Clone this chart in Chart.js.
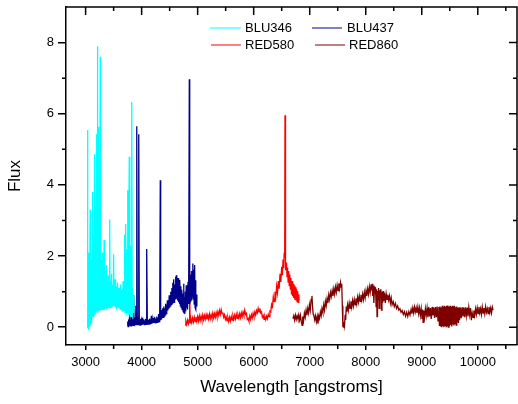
<!DOCTYPE html>
<html>
<head>
<meta charset="utf-8">
<script src="https://cdn.jsdelivr.net/npm/chart.js@4/dist/chart.umd.min.js"></script>
<style>
  body { margin: 0; background: #fff; }
  canvas { display: block; }
</style>
</head>
<body>
<canvas id="spectrum" width="518" height="404"></canvas>
<script>
// [wavelength (angstroms), flux] per arm of the spectrograph
const blu346 = [
  [3030,0.02],[3034,5.54],[3037,0.0],[3041,1.75],[3045,0.05],[3049,1.3],[3053,0.0],[3057,2.1],
  [3061,0.1],[3065,1.45],[3069,0.0],[3073,1.8],[3077,0.15],[3081,3.3],[3085,0.05],[3089,2.45],
  [3093,0.2],[3097,1.83],[3101,0.1],[3105,1.9],[3109,0.25],[3113,1.35],[3117,0.3],[3121,2.2],
  [3125,0.3],[3129,3.8],[3133,0.3],[3137,1.25],[3141,0.35],[3145,1.7],[3149,0.3],[3153,2.6],
  [3157,0.35],[3161,1.4],[3166,4.86],[3169,0.4],[3173,2.9],[3177,0.4],[3181,1.5],[3185,0.4],
  [3189,3.4],[3193,0.45],[3198,5.42],[3202,0.45],[3206,1.6],[3210,0.4],[3214,7.9],[3218,0.45],
  [3222,2.3],[3226,0.5],[3232,5.63],[3236,0.45],[3240,1.45],[3244,0.5],[3248,2.0],[3252,0.45],
  [3256,1.6],[3262,7.6],[3266,0.5],[3270,1.3],[3276,0.5],[3282,1.9],[3288,0.5],[3294,1.3],
  [3300,0.5],[3306,2.1],[3312,0.5],[3318,1.25],[3324,0.55],[3330,2.45],[3336,0.5],[3342,1.3],
  [3348,0.55],[3354,1.6],[3360,0.55],[3366,1.2],[3372,0.5],[3378,1.75],[3384,0.55],[3390,1.25],
  [3396,0.55],[3402,1.45],[3408,0.55],[3414,1.15],[3420,0.55],[3430,3.03],[3436,0.55],[3442,1.3],
  [3448,0.6],[3454,1.1],[3460,0.55],[3466,1.5],[3472,0.6],[3478,1.05],[3484,0.6],[3490,1.2],
  [3496,0.6],[3502,2.05],[3508,0.6],[3514,1.1],[3520,0.6],[3526,1.35],[3532,0.55],[3538,1.0],
  [3544,0.6],[3550,1.15],[3556,0.55],[3562,0.95],[3568,0.6],[3574,1.25],[3580,0.55],[3586,1.0],
  [3592,0.55],[3598,1.1],[3604,0.55],[3610,0.9],[3616,0.5],[3622,1.2],[3628,0.5],[3634,0.95],
  [3640,0.5],[3646,1.05],[3652,0.45],[3658,0.9],[3664,0.5],[3670,1.3],[3676,0.45],[3682,1.0],
  [3688,0.5],[3694,2.6],[3700,0.45],[3706,1.5],[3712,0.4],[3718,2.9],[3724,0.45],[3730,1.4],
  [3736,0.4],[3742,2.2],[3750,3.85],[3754,0.4],[3760,1.7],[3766,0.35],[3772,2.5],[3780,4.79],
  [3785,0.35],[3790,1.6],[3796,0.3],[3802,2.3],[3808,0.35],[3814,1.3],[3820,0.3],[3827,6.33],
  [3832,0.4],[3838,1.1],[3844,0.35],[3850,0.9],[3856,0.4],[3862,0.75],[3868,0.5]
];

const blu437 = [
  [3745,0.05],[3752,0.16],[3758,0.02],[3765,0.22],[3772,0.04],[3778,0.18],[3785,0.03],[3792,0.75],
  [3798,0.05],[3805,0.2],[3812,0.04],[3818,0.3],[3825,0.05],[3832,0.18],[3838,0.04],[3845,0.22],
  [3852,0.05],[3858,0.9],[3864,0.06],[3871,0.2],[3878,0.05],[3885,0.27],[3892,0.06],[3898,0.6],
  [3904,0.07],[3910,0.22],[3916,5.65],[3922,0.07],[3930,0.3],[3938,0.07],[3945,0.22],[3952,5.42],
  [3958,0.08],[3965,0.2],[3972,0.06],[3980,0.24],[3988,0.07],[3995,0.18],[4002,0.06],[4010,0.26],
  [4018,0.07],[4025,0.18],[4032,0.08],[4040,0.22],[4048,0.07],[4055,0.19],[4062,0.08],[4070,0.24],
  [4078,0.08],[4086,0.19],[4095,2.2],[4102,0.09],[4110,0.22],[4118,0.09],[4126,0.2],[4134,0.09],
  [4142,0.24],[4150,0.1],[4158,0.21],[4166,0.1],[4174,0.32],[4182,0.1],[4190,0.22],[4198,0.11],
  [4206,0.26],[4214,0.12],[4222,0.22],[4230,0.12],[4238,0.28],[4246,0.12],[4254,0.24],[4262,0.14],
  [4270,0.3],[4278,0.14],[4286,0.27],[4294,0.15],[4302,0.37],[4310,0.16],[4318,0.32],[4326,0.18],
  [4333,4.13],[4340,0.2],[4348,0.4],[4356,0.22],[4364,0.48],[4372,0.26],[4380,0.53],[4388,0.28],
  [4396,0.58],[4404,0.31],[4412,0.53],[4420,0.35],[4428,0.66],[4436,0.38],[4444,0.62],[4452,0.42],
  [4460,0.76],[4468,0.47],[4476,0.72],[4484,0.52],[4492,0.9],[4500,0.55],[4508,0.85],[4516,0.58],
  [4524,1.0],[4532,0.64],[4540,1.1],[4548,0.68],[4556,1.25],[4564,0.76],[4572,1.35],[4580,0.7],
  [4588,1.2],[4596,0.8],[4604,1.42],[4612,0.85],[4620,1.46],[4628,0.8],[4636,1.3],[4644,0.75],
  [4652,1.38],[4660,0.7],[4668,1.25],[4676,0.65],[4684,1.33],[4692,0.6],[4700,1.15],[4708,0.55],
  [4716,1.05],[4724,0.5],[4732,0.95],[4740,0.45],[4748,1.22],[4756,0.42],[4764,0.85],[4772,0.38],
  [4780,1.0],[4788,0.45],[4796,1.18],[4804,0.55],[4812,1.0],[4820,0.5],[4828,1.28],[4836,0.65],
  [4844,1.08],[4851,6.97],[4858,0.65],[4866,1.33],[4874,0.7],[4882,1.48],[4890,0.75],[4898,1.58],
  [4906,0.85],[4914,1.79],[4922,0.8],[4930,1.62],[4938,0.65],[4946,1.75],[4954,0.55],[4962,1.32],
  [4970,0.5],[4978,0.92],[4986,0.58]
];

const red580 = [
  [4775,0.06],[4790,0.17],[4805,0.08],[4820,0.2],[4835,0.1],[4850,0.22],[4857,1.58],[4864,0.12],
  [4880,0.24],[4895,0.13],[4910,0.26],[4925,0.15],[4940,0.28],[4955,0.16],[4970,0.29],[4985,0.17],
  [5000,0.3],[5015,0.17],[5030,0.32],[5045,0.19],[5060,0.31],[5075,0.2],[5090,0.34],[5105,0.21],
  [5120,0.33],[5135,0.22],[5150,0.35],[5165,0.22],[5180,0.34],[5195,0.23],[5210,0.37],[5225,0.24],
  [5240,0.35],[5255,0.25],[5270,0.39],[5285,0.26],[5300,0.38],[5315,0.28],[5330,0.41],[5345,0.3],
  [5360,0.43],[5375,0.33],[5390,0.47],[5405,0.36],[5420,0.49],[5435,0.38],[5450,0.41],[5465,0.28],
  [5480,0.35],[5495,0.22],[5510,0.29],[5525,0.18],[5540,0.27],[5555,0.16],[5570,0.28],[5585,0.18],
  [5600,0.3],[5615,0.2],[5630,0.32],[5645,0.22],[5660,0.34],[5675,0.23],[5690,0.36],[5705,0.25],
  [5720,0.35],[5735,0.26],[5750,0.38],[5765,0.27],[5780,0.4],[5795,0.3],[5810,0.43],[5825,0.34],
  [5840,0.48],[5855,0.36],[5870,0.39],[5885,0.22],[5900,0.25],[5915,0.17],[5930,0.31],[5945,0.22],
  [5960,0.35],[5975,0.26],[5990,0.39],[6005,0.3],[6020,0.43],[6035,0.34],[6050,0.47],[6065,0.4],
  [6080,0.53],[6095,0.43],[6110,0.53],[6125,0.4],[6140,0.43],[6155,0.28],[6170,0.33],[6185,0.22],
  [6200,0.3],[6215,0.21],[6230,0.31],[6245,0.24],[6260,0.36],[6275,0.3],[6290,0.45],[6305,0.43],
  [6320,0.64],[6335,0.58],[6350,0.85],[6365,0.72],[6380,1.0],[6395,0.85],[6410,1.15],[6425,0.97],
  [6440,1.3],[6455,1.08],[6470,1.5],[6485,1.27],[6500,1.7],[6512,1.46],[6524,1.9],[6535,1.66],
  [6545,2.1],[6552,1.95],[6556,2.3],[6559,5.96],[6562,2.2],[6568,1.85],[6575,1.6],[6585,1.82],
  [6595,1.42],[6605,1.68],[6615,1.27],[6625,1.58],[6635,1.17],[6645,1.48],[6655,1.07],[6665,1.38],
  [6675,0.92],[6685,1.3],[6695,0.87],[6705,1.22],[6715,0.82],[6725,1.17],[6735,0.77],[6745,1.12],
  [6755,0.75],[6765,1.07],[6775,0.72],[6785,1.02],[6795,0.7],[6805,0.92],[6810,0.76]
];

const red860 = [
  [6700,0.24],[6715,0.32],[6730,0.2],[6745,0.34],[6760,0.22],[6775,0.32],[6790,0.23],[6805,0.35],
  [6820,0.2],[6835,0.33],[6850,0.16],[6865,0.05],[6875,0.3],[6890,0.18],[6905,0.4],[6920,0.28],
  [6935,0.48],[6950,0.34],[6965,0.53],[6980,0.4],[6995,0.63],[7010,0.48],[7025,0.78],[7040,0.88],
  [7050,0.6],[7062,0.36],[7075,0.32],[7090,0.2],[7105,0.32],[7120,0.16],[7135,0.3],[7148,0.1],
  [7160,0.32],[7175,0.24],[7190,0.43],[7205,0.32],[7220,0.53],[7235,0.42],[7250,0.63],[7265,0.48],
  [7280,0.73],[7295,0.6],[7310,0.81],[7325,0.68],[7340,0.91],[7355,0.78],[7370,0.98],[7385,0.86],
  [7400,1.03],[7415,0.88],[7430,1.08],[7445,0.93],[7460,1.13],[7475,0.98],[7490,1.18],[7505,1.03],
  [7520,1.23],[7535,1.08],[7550,1.26],[7562,1.13],[7572,1.22],[7582,0.6],[7592,0.02],[7602,0.0],
  [7612,0.15],[7622,0.05],[7632,0.35],[7642,0.2],[7652,0.58],[7662,0.43],[7675,0.63],[7690,0.48],
  [7705,0.68],[7720,0.53],[7735,0.73],[7750,0.56],[7765,0.75],[7780,0.6],[7795,0.78],[7810,0.63],
  [7825,0.81],[7840,0.66],[7855,0.85],[7870,0.7],[7885,0.88],[7900,0.73],[7915,0.91],[7930,0.76],
  [7945,0.93],[7960,0.78],[7975,0.98],[7990,0.83],[8005,1.03],[8020,0.88],[8035,1.08],[8050,0.93],
  [8065,1.14],[8080,0.98],[8095,1.2],[8105,1.03],[8115,1.22],[8125,0.88],[8135,1.17],[8145,0.68],
  [8155,1.14],[8165,0.93],[8175,1.12],[8185,0.58],[8195,1.07],[8202,0.3],[8210,1.02],[8220,0.78],
  [8230,1.1],[8240,0.53],[8250,1.04],[8260,0.83],[8270,1.07],[8280,0.48],[8290,1.0],[8300,0.68],
  [8310,1.02],[8320,0.73],[8335,0.97],[8350,0.68],[8365,0.94],[8380,0.78],[8395,0.92],[8410,0.76],
  [8425,0.88],[8440,0.68],[8455,0.82],[8470,0.63],[8490,0.72],[8510,0.58],[8530,0.67],[8550,0.53],
  [8570,0.6],[8590,0.48],[8610,0.52],[8630,0.42],[8650,0.47],[8670,0.36],[8690,0.44],[8710,0.31],
  [8730,0.42],[8750,0.3],[8770,0.44],[8790,0.34],[8810,0.5],[8825,0.38],[8840,0.54],[8855,0.4],
  [8870,0.57],[8885,0.43],[8900,0.55],[8915,0.4],[8930,0.57],[8945,0.38],[8960,0.54],[8975,0.33],
  [8990,0.52],[9005,0.25],[9015,0.5],[9025,0.14],[9035,0.47],[9050,0.28],[9065,0.52],[9080,0.33],
  [9095,0.54],[9110,0.28],[9125,0.57],[9140,0.3],[9155,0.54],[9170,0.23],[9185,0.57],[9200,0.33],
  [9215,0.55],[9230,0.26],[9245,0.57],[9260,0.28],[9275,0.58],[9290,0.18],[9305,0.57],[9315,0.05],
  [9325,0.58],[9335,0.02],[9345,0.55],[9355,0.0],[9365,0.6],[9375,0.03],[9385,0.57],[9395,0.0],
  [9405,0.6],[9415,0.05],[9425,0.58],[9435,0.02],[9445,0.6],[9455,0.05],[9465,0.61],[9475,0.0],
  [9485,0.58],[9495,0.03],[9505,0.6],[9515,0.06],[9525,0.57],[9535,0.02],[9545,0.6],[9555,0.08],
  [9565,0.58],[9575,0.05],[9585,0.6],[9595,0.1],[9605,0.56],[9615,0.06],[9625,0.58],[9635,0.15],
  [9645,0.55],[9655,0.12],[9665,0.56],[9675,0.2],[9690,0.55],[9705,0.25],[9720,0.56],[9735,0.3],
  [9750,0.55],[9765,0.28],[9780,0.56],[9795,0.32],[9810,0.55],[9825,0.3],[9840,0.56],[9855,0.35],
  [9870,0.54],[9885,0.2],[9900,0.4],[9915,0.28],[9930,0.47],[9945,0.33],[9960,0.52],[9975,0.36],
  [9990,0.54],[10005,0.38],[10020,0.57],[10035,0.4],[10050,0.52],[10065,0.36],[10080,0.57],[10095,0.4],
  [10110,0.54],[10125,0.38],[10140,0.58],[10155,0.42],[10170,0.52],[10185,0.38],[10200,0.57],[10215,0.41],
  [10230,0.54],[10245,0.4],[10260,0.56],[10272,0.48]
];

const seriesNames = ['BLU346', 'BLU437', 'RED580', 'RED860'];
const seriesColors = ['#00ffff', '#00008b', '#ff0000', '#800000'];
const seriesData = [blu346, blu437, red580, red860];

const xTickValues = [3000, 4000, 5000, 6000, 7000, 8000, 9000, 10000];
const yTickValues = [0, 2, 4, 6, 8];

const FONT = 'Arial, "Liberation Sans", sans-serif';

// top/right frame, mirrored ticks and minor ticks halfway between majors
const frameTicks = {
  id: 'frameTicks',
  afterDraw(chart) {
    const {ctx, chartArea: a, scales: {x, y}} = chart;
    ctx.save();
    ctx.strokeStyle = '#000';
    ctx.lineWidth = 1.5;
    ctx.beginPath();
    ctx.moveTo(a.left, a.top);
    ctx.lineTo(a.right, a.top);
    ctx.lineTo(a.right, a.bottom);
    ctx.stroke();

    ctx.beginPath();
    const xHalf = (xTickValues[1] - xTickValues[0]) / 2;
    x.ticks.forEach(t => {
      const px = x.getPixelForValue(t.value);
      ctx.moveTo(px, a.top);
      ctx.lineTo(px, a.top + 8);
      const m = t.value + xHalf;
      if (m < x.max) {
        const pm = x.getPixelForValue(m);
        ctx.moveTo(pm, a.bottom);
        ctx.lineTo(pm, a.bottom + 4);
        ctx.moveTo(pm, a.top);
        ctx.lineTo(pm, a.top + 4);
      }
    });
    const yHalf = (yTickValues[1] - yTickValues[0]) / 2;
    y.ticks.forEach(t => {
      const py = y.getPixelForValue(t.value);
      ctx.moveTo(a.right, py);
      ctx.lineTo(a.right - 8, py);
      const m = t.value + yHalf;
      if (m < y.max) {
        const pm = y.getPixelForValue(m);
        ctx.moveTo(a.left, pm);
        ctx.lineTo(a.left - 4, pm);
        ctx.moveTo(a.right, pm);
        ctx.lineTo(a.right - 4, pm);
      }
    });
    ctx.stroke();
    ctx.restore();
  }
};

// two-column legend inside the plot
const inlineLegend = {
  id: 'inlineLegend',
  afterDraw(chart) {
    const {ctx, chartArea: a} = chart;
    const spots = [[144, 175, 179, 21], [246, 276, 281, 21], [145, 175, 179, 38], [249, 279, 283, 38]];
    ctx.save();
    ctx.font = '13px ' + FONT;
    ctx.textBaseline = 'middle';
    ctx.fillStyle = '#000';
    chart.data.datasets.forEach((ds, i) => {
      const [x0, x1, tx, dy] = spots[i];
      const yy = a.top + dy;
      ctx.strokeStyle = ds.borderColor;
      ctx.lineWidth = 1;
      ctx.beginPath();
      ctx.moveTo(a.left + x0, yy);
      ctx.lineTo(a.left + x1, yy);
      ctx.stroke();
      ctx.fillText(ds.label, a.left + tx, yy);
    });
    ctx.restore();
  }
};

const ctx = document.getElementById('spectrum');

new Chart(ctx, {
  type: 'line',
  data: {
    datasets: seriesData.map((pts, i) => ({
      label: seriesNames[i],
      data: pts.map(([w, f]) => ({x: w, y: f})),
      borderColor: seriesColors[i],
      borderWidth: 1.3,
      pointRadius: 0,
      tension: 0,
      fill: false
    }))
  },
  options: {
    responsive: false,
    animation: false,
    layout: {padding: {top: 7, right: 1, left: 0, bottom: 0}},
    plugins: {
      legend: {display: false},
      tooltip: {enabled: false}
    },
    scales: {
      x: {
        type: 'linear',
        min: 2650,
        max: 10700,
        afterBuildTicks: s => { s.ticks = xTickValues.map(v => ({value: v})); },
        afterFit: s => { s.height = 59; s.paddingLeft = 0; s.paddingRight = 0; },
        ticks: {
          maxRotation: 0,
          autoSkip: false,
          padding: 5,
          color: '#000',
          font: {family: FONT, size: 13},
          callback: v => String(v)
        },
        grid: {drawOnChartArea: false, drawTicks: true, tickLength: 5, color: '#000', lineWidth: 1.5},
        border: {color: '#000', width: 1.5},
        title: {
          display: true,
          text: 'Wavelength [angstroms]',
          color: '#000',
          font: {family: FONT, size: 17},
          padding: {top: 0, bottom: 6}
        }
      },
      y: {
        min: -0.5,
        max: 9,
        afterBuildTicks: s => { s.ticks = yTickValues.map(v => ({value: v})); },
        afterFit: s => { s.width = 66; s.paddingTop = 0; s.paddingBottom = 0; },
        ticks: {
          padding: 4,
          color: '#000',
          font: {family: FONT, size: 13},
          callback: v => String(v)
        },
        grid: {drawOnChartArea: false, drawTicks: true, tickLength: 8, color: '#000', lineWidth: 1.5},
        border: {color: '#000', width: 1.5},
        title: {
          display: true,
          text: 'Flux',
          color: '#000',
          font: {family: FONT, size: 17},
          padding: {top: 5, bottom: 0}
        }
      }
    }
  },
  plugins: [frameTicks, inlineLegend]
});
</script>
</body>
</html>
